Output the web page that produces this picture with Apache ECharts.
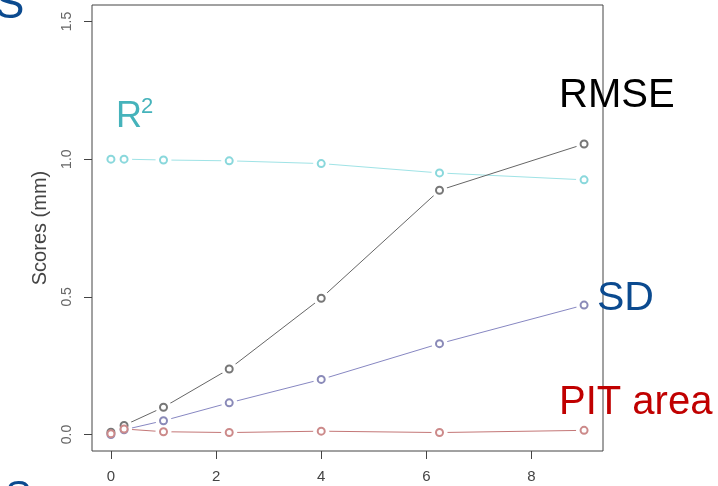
<!DOCTYPE html>
<html>
<head>
<meta charset="utf-8">
<script src="https://cdn.jsdelivr.net/npm/echarts@6/dist/echarts.min.js"></script>
<style>
  html, body { margin: 0; padding: 0; background: #fff; }
  #chart { width: 718px; height: 486px; }
</style>
</head>
<body>
<div id="chart"></div>
<script>
// x positions of the runs and the four scores
const xs = [0, 0.25, 1, 2.25, 4, 6.25, 9];
const r2 = [1.0, 1.0, 0.997, 0.994, 0.984, 0.95, 0.925];
const rmse = [0.008, 0.033, 0.099, 0.238, 0.495, 0.887, 1.055];
const sd = [0.0, 0.017, 0.05, 0.115, 0.2, 0.33, 0.47];
const pit = [0.003, 0.02, 0.01, 0.007, 0.012, 0.007, 0.015];

const xTicks = [0, 2, 4, 6, 8];
const yTicks = [0, 0.5, 1.0, 1.5];

function pairs(ys) {
  return xs.map((x, i) => [x, ys[i]]);
}

// R type="b": line segments that stop short of the open circles.
// the line's own white symbols cut the gaps, the scatter draws the rings
function scoreSeries(name, ys, lineColor, dotColor) {
  return [
    {
      name: name,
      type: "line",
      data: pairs(ys),
      showSymbol: true,
      symbol: "circle",
      symbolSize: 16,
      showAllSymbol: true,
      itemStyle: { color: "#fff", borderWidth: 0, opacity: 1 },
      lineStyle: { color: lineColor, width: 1 },
      emphasis: { disabled: true },
      z: 2,
    },
    {
      name: name,
      type: "scatter",
      data: pairs(ys),
      symbol: "emptyCircle",
      symbolSize: 7,
      itemStyle: { color: dotColor, borderColor: dotColor, borderWidth: 1.2, opacity: 1 },
      emphasis: { disabled: true },
      z: 6,
    },
  ];
}

let myChart = echarts.init(document.getElementById("chart"), null, { renderer: "canvas" });

let option = {
  animation: false,
  backgroundColor: "#fff",
  textStyle: { fontFamily: "Liberation Sans, Arial, sans-serif" },
  grid: {
    left: 92,
    right: 115,
    top: 5,
    bottom: 35,
    show: true,
    borderColor: "#444",
    borderWidth: 1,
    backgroundColor: "transparent",
  },
  xAxis: {
    type: "value",
    min: -0.36,
    max: 9.36,
    axisLine: { show: false, onZero: false },
    splitLine: { show: false },
    axisTick: {
      show: true,
      inside: false,
      length: 8,
      customValues: xTicks,
      lineStyle: { color: "#444", width: 1 },
    },
    axisLabel: {
      customValues: xTicks,
      margin: 18,
      fontSize: 15,
      color: "#444",
    },
  },
  yAxis: {
    type: "value",
    min: -0.06,
    max: 1.56,
    name: "Scores (mm)",
    nameLocation: "middle",
    nameRotate: 90,
    nameGap: 42,
    nameTextStyle: { fontSize: 20, color: "#444" },
    axisLine: { show: false, onZero: false },
    splitLine: { show: false },
    axisTick: {
      show: true,
      inside: false,
      length: 8,
      customValues: yTicks,
      lineStyle: { color: "#444", width: 1 },
    },
    axisLabel: {
      customValues: yTicks,
      rotate: 90,
      margin: 18,
      fontSize: 14,
      color: "#666",
      formatter: (v) => v.toFixed(1),
    },
  },
  series: [].concat(
    scoreSeries("R2", r2, "#9fe3e6", "#8ad8dc"),
    scoreSeries("RMSE", rmse, "#666", "#777"),
    scoreSeries("SD", sd, "#8787c2", "#8a8ab8"),
    scoreSeries("PIT area", pit, "#c47777", "#cc8a8a")
  ),
  graphic: [
    { type: "text", x: 116, y: 117, style: { text: "R", font: "36px Liberation Sans", fill: "#45b3bb", verticalAlign: "middle" }, z: 10 },
    { type: "text", x: 141, y: 107, style: { text: "2", font: "22px Liberation Sans", fill: "#45b3bb", verticalAlign: "middle" }, z: 10 },
    { type: "text", x: 559, y: 96, style: { text: "RMSE", font: "40px Liberation Sans", fill: "#000", verticalAlign: "middle" }, z: 10 },
    { type: "text", x: 597, y: 299, style: { text: "SD", font: "41px Liberation Sans", fill: "#0b4a8f", verticalAlign: "middle" }, z: 10 },
    { type: "text", x: 559, y: 403, style: { text: "PIT area", font: "40px Liberation Sans", fill: "#c00000", verticalAlign: "middle" }, z: 10 },
    { type: "text", x: -5, y: 6, style: { text: "S", font: "44px Liberation Sans", fill: "#0b4a8f", verticalAlign: "middle" }, z: 10 },
    { type: "text", x: 5, y: 498, style: { text: "S", font: "40px Liberation Sans", fill: "#0b4a8f", verticalAlign: "middle" }, z: 10 },
  ],
};

myChart.setOption(option);
</script>
</body>
</html>
